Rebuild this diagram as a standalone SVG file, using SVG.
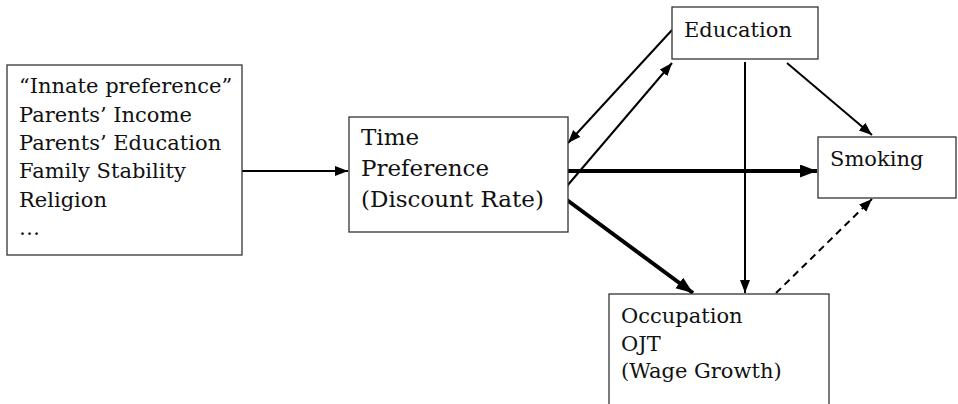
<svg xmlns="http://www.w3.org/2000/svg" width="958" height="404" viewBox="0 0 958 404">
<defs>
<style>
.box{fill:#fff;stroke:#333;stroke-width:1.3}
.t{font-family:"DejaVu Serif","Liberation Serif",serif;font-size:21px;fill:#111}
.big{font-size:23px}
.c{stroke:#000;stroke-width:2;fill:none}
.k{stroke:#000;stroke-width:4;fill:none}
.d{stroke:#000;stroke-width:2;fill:none;stroke-dasharray:7,5}
</style>
<marker id="a" markerUnits="userSpaceOnUse" markerWidth="14" markerHeight="12" refX="13" refY="5" orient="auto"><path d="M0,0 L13,5 L0,10 Z" fill="#000"/></marker>
<marker id="ak" markerUnits="userSpaceOnUse" markerWidth="18" markerHeight="14" refX="17" refY="6.5" orient="auto"><path d="M0,0 L17,6.5 L0,13 Z" fill="#000"/></marker>
</defs>
<rect width="958" height="404" fill="#fff"/>
<g id="connectors">
<line class="c" x1="242" y1="171" x2="348" y2="171" marker-end="url(#a)"/>
<line class="c" x1="672" y1="30" x2="568" y2="143" marker-end="url(#a)"/>
<line class="c" x1="567" y1="186" x2="672" y2="63" marker-end="url(#a)"/>
<line class="k" x1="567" y1="171" x2="817" y2="171" marker-end="url(#ak)"/>
<line class="k" x1="567" y1="200" x2="693" y2="293" marker-end="url(#ak)"/>
<line class="c" x1="745" y1="62" x2="745" y2="293" marker-end="url(#a)"/>
<line class="c" x1="787" y1="63" x2="872" y2="135" marker-end="url(#a)"/>
<line class="d" x1="776" y1="293" x2="872" y2="199" marker-end="url(#a)"/>
</g>
<g id="sources">
<rect class="box" x="7" y="65" width="235" height="190"/>
<text class="t" x="19" y="93">“Innate preference”</text>
<text class="t" x="19" y="122">Parents’ Income</text>
<text class="t" x="19" y="150">Parents’ Education</text>
<text class="t" x="19" y="178">Family Stability</text>
<text class="t" x="19" y="207">Religion</text>
<text class="t" x="19" y="235">…</text>
</g>
<g id="timepref">
<rect class="box" x="349" y="117" width="219" height="115"/>
<text class="t big" x="361" y="145">Time</text>
<text class="t big" x="361" y="176">Preference</text>
<text class="t big" x="361" y="207">(Discount Rate)</text>
</g>
<g id="education">
<rect class="box" x="672" y="7" width="146" height="52"/>
<text class="t" x="684" y="37">Education</text>
</g>
<g id="smoking">
<rect class="box" x="818" y="137" width="138" height="61"/>
<text class="t" x="830" y="166">Smoking</text>
</g>
<g id="occupation">
<rect class="box" x="609" y="294" width="220" height="120"/>
<text class="t" x="621" y="323">Occupation</text>
<text class="t" x="621" y="351">OJT</text>
<text class="t" x="621" y="378">(Wage Growth)</text>
</g>
</svg>
